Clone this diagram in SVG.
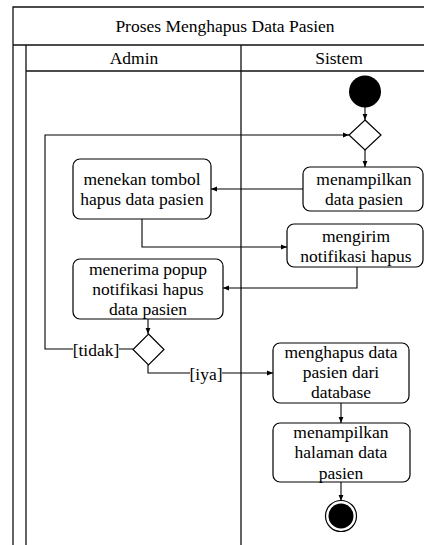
<svg xmlns="http://www.w3.org/2000/svg" width="424" height="545" viewBox="0 0 424 545" font-family="'Liberation Serif', 'Times New Roman', Times, 'DejaVu Serif', serif">
<defs>
<style>
text{font-family:'Liberation Serif','Times New Roman',Times,'DejaVu Serif',serif;font-size:17.5px;fill:#000;text-anchor:middle}
.frame{fill:none;stroke:#111;stroke-width:1.3}
.act{fill:#fff;stroke:#000;stroke-width:1.2}
.edge{fill:none;stroke:#000;stroke-width:1.1}
.lbl{fill:#fff;stroke:none}
</style>
<marker id="ah" viewBox="0 0 10 10" refX="10" refY="5" markerWidth="6" markerHeight="6" orient="auto" markerUnits="userSpaceOnUse">
<path d="M0,1 L10,5 L0,9 Z" fill="#000"/>
</marker>
</defs>
<rect width="424" height="545" fill="#fff"/>
<g id="pool">
<path class="frame" d="M13,545 V7 H437 V545 M13,45 H437 M26,45 V545 M26,71 H437 M241,45 V545"/>
<text x="225" y="32">Proses Menghapus Data Pasien</text>
<text x="134" y="64">Admin</text>
<text x="339" y="64">Sistem</text>
</g>
<g id="connectors">
<path class="edge" d="M365,107 V120" marker-end="url(#ah)"/>
<path class="edge" d="M365,150 V167" marker-end="url(#ah)"/>
<path class="edge" d="M303,189 H211" marker-end="url(#ah)"/>
<path class="edge" d="M142,219 V247 H287" marker-end="url(#ah)"/>
<path class="edge" d="M357,267 V288 H223" marker-end="url(#ah)"/>
<path class="edge" d="M148,319 V334" marker-end="url(#ah)"/>
<path class="edge" d="M133,349 H45 V135 H349" marker-end="url(#ah)"/>
<path class="edge" d="M148,365 V373 H273" marker-end="url(#ah)"/>
<path class="edge" d="M341,403 V423" marker-end="url(#ah)"/>
<path class="edge" d="M341,482 V501" marker-end="url(#ah)"/>
<rect class="lbl" x="73" y="341" width="46" height="18"/>
<text x="96" y="356">[tidak]</text>
<rect class="lbl" x="190" y="365" width="32" height="18"/>
<text x="206" y="380">[iya]</text>
</g>
<g id="start"><circle cx="365" cy="91.5" r="16" fill="#000"/></g>
<g id="decision1"><path class="act" d="M365,120 L381,135 L365,150 L349,135 Z"/></g>
<g id="tampil-data">
<rect class="act" x="303" y="167" width="120" height="44" rx="7"/>
<text x="364" y="185">menampilkan</text>
<text x="364" y="205">data pasien</text>
</g>
<g id="tekan-hapus">
<rect class="act" x="73" y="159" width="138" height="60" rx="7"/>
<text x="142" y="185">menekan tombol</text>
<text x="142" y="205">hapus data pasien</text>
</g>
<g id="kirim-notif">
<rect class="act" x="287" y="224" width="136" height="43" rx="7"/>
<text x="356" y="242">mengirim</text>
<text x="356" y="262">notifikasi hapus</text>
</g>
<g id="terima-popup">
<rect class="act" x="73" y="259" width="150" height="60" rx="7"/>
<text x="148" y="275">menerima popup</text>
<text x="148" y="295">notifikasi hapus</text>
<text x="148" y="315">data pasien</text>
</g>
<g id="decision2"><path class="act" d="M148.5,334 L164,349.5 L148.5,365 L133,349.5 Z"/></g>
<g id="hapus-db">
<rect class="act" x="273" y="343" width="136" height="60" rx="7"/>
<text x="341" y="358">menghapus data</text>
<text x="341" y="378">pasien dari</text>
<text x="341" y="398">database</text>
</g>
<g id="tampil-halaman">
<rect class="act" x="273" y="423" width="137" height="59" rx="7"/>
<text x="341" y="438">menampilkan</text>
<text x="341" y="458">halaman data</text>
<text x="341" y="479">pasien</text>
</g>
<g id="end">
<circle cx="341" cy="516" r="15.5" fill="#fff" stroke="#000" stroke-width="1.2"/>
<circle cx="341" cy="516" r="12.5" fill="#000"/>
</g>
</svg>
